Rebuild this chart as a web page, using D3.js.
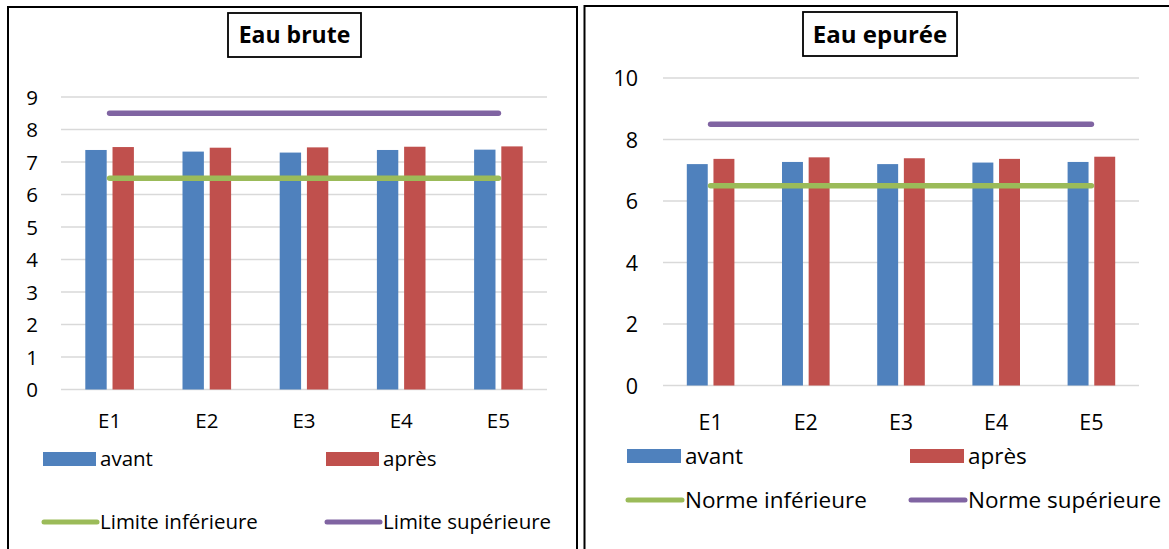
<!DOCTYPE html>
<html>
<head>
<meta charset="utf-8">
<script src="https://cdn.jsdelivr.net/npm/d3@7"></script>
<style>
  html, body { margin: 0; padding: 0; background: #fff; }
  svg { display: block; font-family: "Open Sans", sans-serif; }
</style>
</head>
<body>
<svg id="chart" width="1169" height="549"></svg>
<script>
// Stations de prélèvement
const categories = ["E1", "E2", "E3", "E4", "E5"];

// Eau brute : pH avant / après
const bruteAvant = [7.37, 7.32, 7.29, 7.37, 7.38];
const bruteApres = [7.46, 7.44, 7.45, 7.47, 7.48];
const bruteLimiteInf = [6.5, 6.5, 6.5, 6.5, 6.5];
const bruteLimiteSup = [8.5, 8.5, 8.5, 8.5, 8.5];
const bruteTicks = [0, 1, 2, 3, 4, 5, 6, 7, 8, 9];

// Eau épurée : pH avant / après
const epureeAvant = [7.20, 7.27, 7.20, 7.25, 7.27];
const epureeApres = [7.37, 7.42, 7.39, 7.37, 7.44];
const epureeNormeInf = [6.5, 6.5, 6.5, 6.5, 6.5];
const epureeNormeSup = [8.5, 8.5, 8.5, 8.5, 8.5];
const epureeTicks = [0, 2, 4, 6, 8, 10];

const COLORS = { avant: "#4F81BD", apres: "#C0504D", inf: "#9BBB59", sup: "#8064A2" };

const svg = d3.select("#chart");

function drawPanel(p) {
  const g = svg.append("g");

  // cadre du graphique
  g.append("rect")
    .attr("x", p.frame[0]).attr("y", p.frame[1])
    .attr("width", p.frame[2]).attr("height", p.frame[3])
    .attr("fill", "none").attr("stroke", "#000").attr("stroke-width", 2);

  const x = d3.scaleBand().domain(categories).range([p.plot.x0, p.plot.x1]);
  const y = d3.scaleLinear().domain([0, d3.max(p.ticks)]).range([p.plot.y0, p.plot.y1]);

  // quadrillage horizontal
  g.append("g").selectAll("line").data(p.ticks).join("line")
    .attr("x1", p.plot.x0).attr("x2", p.plot.x1)
    .attr("y1", d => y(d)).attr("y2", d => y(d))
    .attr("stroke", "#d9d9d9").attr("stroke-width", 1.4);

  // axe Y
  const yAxis = d3.axisLeft(y).tickValues(p.ticks).tickSize(0).tickPadding(0);
  const ya = g.append("g").attr("transform", `translate(${p.yLabelX},0)`).call(yAxis);
  ya.select(".domain").remove();
  ya.selectAll("text").attr("font-size", p.axisFont).attr("fill", "#000")
    .attr("font-family", "'Open Sans', sans-serif").attr("dy", "0.36em");

  // axe X
  const xAxis = d3.axisBottom(x).tickSize(0).tickPadding(0);
  const xa = g.append("g").attr("transform", `translate(0,${p.xLabelY})`).call(xAxis);
  xa.select(".domain").remove();
  xa.selectAll("text").attr("font-size", p.axisFont).attr("fill", "#000")
    .attr("font-family", "'Open Sans', sans-serif").attr("dy", "0.36em");

  // barres groupées
  const step = x.bandwidth();
  const bw = step * 0.22, gap = step * 0.06;
  const series = [
    { vals: p.avant, color: COLORS.avant, off: -gap / 2 - bw },
    { vals: p.apres, color: COLORS.apres, off: gap / 2 }
  ];
  series.forEach(s => {
    g.append("g").selectAll("rect")
      .data(categories.map((c, i) => ({ c, v: s.vals[i] })))
      .join("rect")
      .attr("x", d => x(d.c) + step / 2 + s.off)
      .attr("width", bw)
      .attr("y", d => y(d.v))
      .attr("height", d => y(0) - y(d.v))
      .attr("fill", s.color);
  });

  // limites / normes
  const line = d3.line()
    .x(d => x(d.c) + step / 2)
    .y(d => y(d.v));
  [[p.inf, COLORS.inf], [p.sup, COLORS.sup]].forEach(([vals, color]) => {
    g.append("path")
      .datum(categories.map((c, i) => ({ c, v: vals[i] })))
      .attr("d", line)
      .attr("fill", "none").attr("stroke", color)
      .attr("stroke-width", 5.5).attr("stroke-linecap", "round");
  });

  // titre encadré
  g.append("rect")
    .attr("x", p.titleBox[0]).attr("y", p.titleBox[1])
    .attr("width", p.titleBox[2]).attr("height", p.titleBox[3])
    .attr("fill", "#fff").attr("stroke", "#000").attr("stroke-width", 1.8);
  g.append("text")
    .attr("x", p.titleBox[0] + p.titleBox[2] / 2)
    .attr("y", p.titleBox[1] + p.titleBox[3] / 2)
    .attr("dy", "0.36em")
    .attr("text-anchor", "middle")
    .attr("font-size", p.titleFont).attr("font-weight", "bold")
    .text(p.title);

  // légende
  const L = p.legend;
  const items = [
    { type: "rect", color: COLORS.avant, label: "avant", x: L.col1, y: L.row1 },
    { type: "rect", color: COLORS.apres, label: "après", x: L.col2, y: L.row1 },
    { type: "line", color: COLORS.inf, label: p.infLabel, x: L.col1, y: L.row2 },
    { type: "line", color: COLORS.sup, label: p.supLabel, x: L.col2, y: L.row2 }
  ];
  items.forEach(it => {
    if (it.type === "rect") {
      g.append("rect").attr("x", it.x).attr("y", it.y - 7)
        .attr("width", L.sw).attr("height", 14).attr("fill", it.color);
    } else {
      g.append("line").attr("x1", it.x + 1).attr("x2", it.x + L.sw + 1)
        .attr("y1", it.y).attr("y2", it.y)
        .attr("stroke", it.color).attr("stroke-width", 5).attr("stroke-linecap", "round");
    }
    g.append("text").attr("x", it.x + L.sw + 4).attr("y", it.y)
      .attr("dy", "0.36em").attr("font-size", L.font).text(it.label);
  });
}

drawPanel({
  title: "Eau brute",
  titleFont: 23,
  axisFont: 20.5,
  frame: [8, 7, 569, 560],
  plot: { x0: 61, x1: 547, y0: 389.5, y1: 97 },
  ticks: bruteTicks,
  yLabelX: 38,
  xLabelY: 421,
  avant: bruteAvant, apres: bruteApres,
  inf: bruteLimiteInf, sup: bruteLimiteSup,
  titleBox: [228, 13, 133, 44],
  legend: { col1: 43, col2: 326, row1: 459, row2: 522, sw: 53, font: 20.5 },
  infLabel: "Limite inférieure", supLabel: "Limite supérieure"
});

drawPanel({
  title: "Eau epurée",
  titleFont: 24,
  axisFont: 21.5,
  frame: [584.5, 6, 600, 560],
  plot: { x0: 663, x1: 1139, y0: 385.5, y1: 78 },
  ticks: epureeTicks,
  yLabelX: 638,
  xLabelY: 422,
  avant: epureeAvant, apres: epureeApres,
  inf: epureeNormeInf, sup: epureeNormeSup,
  titleBox: [803, 12, 154, 44],
  legend: { col1: 627, col2: 910, row1: 456, row2: 500, sw: 54, font: 22.5 },
  infLabel: "Norme inférieure", supLabel: "Norme supérieure"
});
</script>
</body>
</html>
